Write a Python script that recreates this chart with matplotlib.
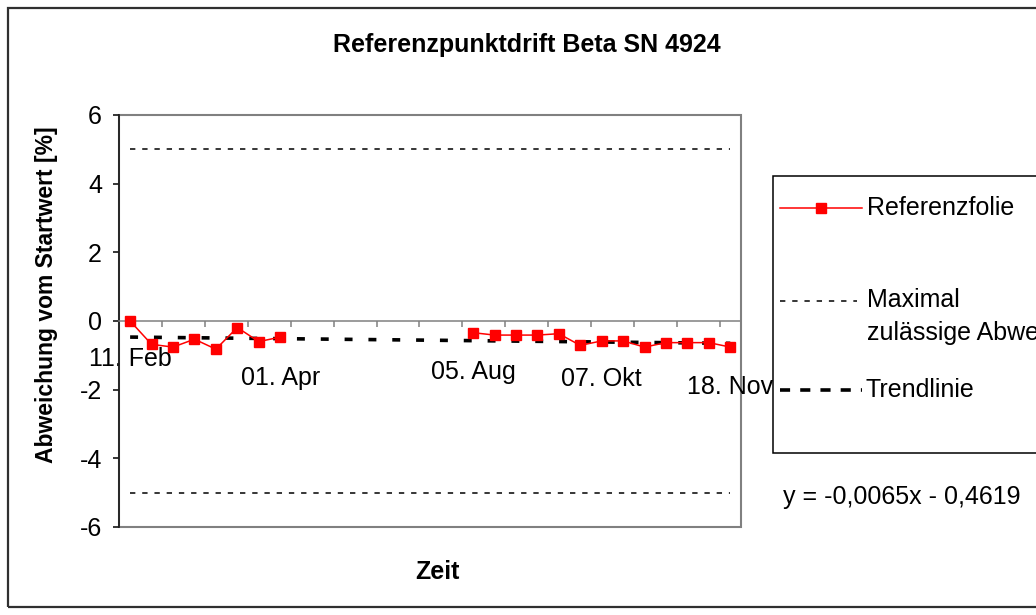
import numpy as np
import matplotlib
matplotlib.use('Agg')
import matplotlib.pyplot as plt
from matplotlib.patches import Rectangle
from matplotlib.lines import Line2D

plt.rcParams['font.family'] = ['Liberation Sans', 'DejaVu Sans']

# ---------------- data ----------------
n_categories = 29
label_categories = [0, 7, 16, 22, 28]
label_texts = ['11. Feb', '01. Apr', '05. Aug', '07. Okt', '18. Nov']
nan = np.nan
referenzfolie = [0.00, -0.68, -0.76, -0.53, -0.82, -0.19, -0.60, -0.47,
                 nan, nan, nan, nan, nan, nan, nan, nan,
                 -0.34, -0.41, -0.41, -0.41, -0.37, -0.71, -0.58, -0.58,
                 -0.76, -0.63, -0.63, -0.63, -0.76]
max_deviation = 5.0
trend_slope = -0.0065
trend_intercept = -0.4619
y_ticks = [-6, -4, -2, 0, 2, 4, 6]

# ---------------- layout ----------------
W, H = 1036, 615
fig = plt.figure(figsize=(W / 100, H / 100), dpi=100)
fig.patch.set_facecolor('white')


def fx(px):
    return px / W


def fy(py):
    return 1 - py / H


FS = 18
ax = fig.add_axes([fx(119.4), fy(527), fx(741) - fx(119.4), fy(115) - fy(527)])
ax.set_facecolor('white')

x = np.arange(n_categories)
red_style = dict(color='#FF0000', lw=1.1, marker='s', ms=7.5, mec='#FF0000', mfc='#FF0000')
max_style = dict(color='black', lw=1.1, dashes=(3.5, 4.5))
trend_style = dict(color='black', lw=2.6, dashes=(2.2, 4.4))

ax.plot(x, np.full(n_categories, max_deviation), zorder=2, **max_style)
ax.plot(x, np.full(n_categories, -max_deviation), zorder=2, **max_style)
trend = trend_slope * (x + 1) + trend_intercept
ax.plot(x, trend, zorder=3, **trend_style)
ax.plot(x, referenzfolie, zorder=4, clip_on=False, **red_style)

ax.set_xlim(-0.5, n_categories - 0.5)
ax.set_ylim(-6, 6)
ax.set_yticks(y_ticks)
ax.set_yticklabels([str(v) for v in y_ticks])
ax.tick_params(axis='y', direction='out', length=4.5, width=1.1, color='black',
               pad=8, labelsize=FS)

ax.spines['top'].set_visible(False)
ax.spines['right'].set_visible(False)
ax.spines['left'].set_color('#202020')
ax.spines['left'].set_linewidth(1.3)
ax.spines['bottom'].set_position(('data', 0))
ax.spines['bottom'].set_color('#808080')
ax.spines['bottom'].set_linewidth(1.1)
ax.set_xticks(np.arange(-0.5, n_categories - 1, 2))
ax.set_xticklabels([])
ax.tick_params(axis='x', direction='out', length=4.5, width=1.1, color='#808080')

# plot-area frame
ax.add_patch(Rectangle((0, 0), 1, 1, transform=ax.transAxes, fill=False,
                       edgecolor='#808080', lw=1.5, clip_on=False, zorder=0.5))

# category labels (staggered as in the original)
label_baseline_px = [45, 64, 58, 65, 73]
for cat, txt, off in zip(label_categories, label_texts, label_baseline_px):
    ax.annotate(txt, xy=(cat, 0), xycoords='data', xytext=(0, -off * 0.72),
                textcoords='offset points', ha='center', va='baseline',
                fontsize=FS, annotation_clip=False, zorder=1)

# ---------------- titles ----------------
fig.text(fx(527), fy(45), 'Referenzpunktdrift Beta SN 4924', ha='center', va='center',
         fontsize=FS, fontweight='bold')
fig.text(fx(437), fy(572), 'Zeit', ha='center', va='center', fontsize=FS, fontweight='bold')
fig.text(fx(47), fy(295), 'Abweichung vom Startwert [%]', ha='center', va='center',
         rotation=90, fontsize=16.5, fontweight='bold')

# ---------------- legend (manual, clipped at the right edge like the original) ----------------
fig.add_artist(Rectangle((fx(773), fy(453)), fx(1060) - fx(773), fy(176) - fy(453),
                         transform=fig.transFigure, facecolor='white', edgecolor='black',
                         lw=1.1, zorder=5))
fig.add_artist(Line2D([fx(780), fx(862)], [fy(208), fy(208)], color='#FF0000', lw=1.1,
                      transform=fig.transFigure, zorder=6))
fig.add_artist(Line2D([fx(821)], [fy(208)], marker='s', ms=7.5, mec='#FF0000', mfc='#FF0000',
                      ls='none', transform=fig.transFigure, zorder=6))
fig.text(fx(867), fy(208), 'Referenzfolie', va='center', ha='left', fontsize=FS, zorder=7)

fig.add_artist(Line2D([fx(780), fx(857)], [fy(301), fy(301)], color='black', lw=1.1,
                      dashes=(3.5, 4.5), transform=fig.transFigure, zorder=6))
fig.text(fx(867), fy(300), 'Maximal', va='center', ha='left', fontsize=FS, zorder=7)
fig.text(fx(867), fy(333), 'zulässige Abweichung', va='center', ha='left', fontsize=FS, zorder=7)

fig.add_artist(Line2D([fx(780), fx(862)], [fy(390), fy(390)], color='black', lw=2.6,
                      dashes=(2.8, 2.8), transform=fig.transFigure, zorder=6))
fig.text(fx(865), fy(390), 'Trendlinie', va='center', ha='left', fontsize=FS, zorder=7)

fig.text(fx(783), fy(497), 'y = -0,0065x - 0,4619', va='center', ha='left', fontsize=FS)

# outer chart border
fig.add_artist(Rectangle((fx(8), fy(607)), fx(1060) - fx(8), fy(8) - fy(607),
                         transform=fig.transFigure, fill=False, edgecolor='#303030',
                         lw=1.6, zorder=10))

fig.savefig('out.png', dpi=100)
